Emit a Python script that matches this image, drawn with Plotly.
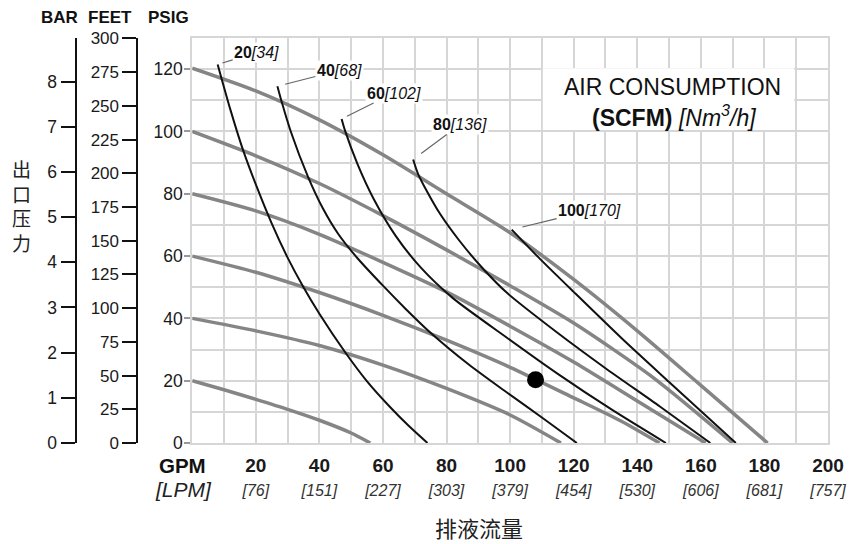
import plotly.graph_objects as go

# ---------------- data ----------------
gpm_tick_vals = [20, 40, 60, 80, 100, 120, 140, 160, 180, 200]
lpm_tick_text = ["[76]", "[151]", "[227]", "[303]", "[379]", "[454]", "[530]", "[606]", "[681]", "[757]"]
gpm_minor_vals = [10, 30, 50, 70, 90, 110, 130, 150, 170, 190]
psig_tick_vals = [0, 20, 40, 60, 80, 100, 120]
psig_minor_vals = [10, 30, 50, 70, 90, 110, 130]
feet_tick_vals = [0, 25, 50, 75, 100, 125, 150, 175, 200, 225, 250, 275, 300]
bar_tick_vals = [0, 1, 2, 3, 4, 5, 6, 7, 8]

# outlet pressure lines (gray), one per inlet air pressure
air_psig = [20, 40, 60, 80, 100, 120]
air20_gpm = [0, 10, 20, 30, 40, 50, 56]
air20_psig = [20, 17.1, 14, 10.8, 7.3, 3.2, 0]
air40_gpm = [0, 20, 40, 60, 80, 100, 116]
air40_psig = [40, 36, 31.3, 25, 17.5, 9, 0]
air60_gpm = [0, 20, 40, 60, 80, 100, 120, 135, 147]
air60_psig = [60, 54.8, 48.3, 41, 33, 24.3, 14.5, 7, 0]
air80_gpm = [0, 20, 40, 60, 80, 100, 120, 140, 161.5]
air80_psig = [80, 74.5, 67, 58, 48.5, 37.5, 26, 13.5, 0]
air100_gpm = [0, 20, 40, 60, 80, 100, 120, 145, 170]
air100_psig = [100, 92.2, 83.3, 73, 62, 50.5, 38.5, 21, 0]
air120_gpm = [0, 20, 40, 60, 80, 100, 120, 140, 160, 181]
air120_psig = [120.3, 113, 103.7, 92.5, 80, 67.5, 52.5, 36, 18.5, 0]

# air consumption lines (black)
scfm_vals = [20, 40, 60, 80, 100]
nm3h_vals = [34, 68, 102, 136, 170]
scfm20_gpm = [8, 12, 16, 20, 25, 30, 35, 40, 48, 55, 62, 68, 74]
scfm20_psig = [121.5, 107, 94, 83, 70.5, 59.5, 50, 41.5, 29.3, 19.8, 11.8, 5.6, 0]
scfm40_gpm = [26.8, 28, 31, 36.4, 41, 46, 52, 60, 67, 74, 87, 99, 110, 121]
scfm40_psig = [114.5, 110, 100, 85.5, 75.5, 67, 59.3, 50.5, 43.2, 36.3, 25.2, 16.2, 8.2, 0]
scfm60_gpm = [47, 48, 52, 57, 64, 72, 82, 99, 115, 132, 149]
scfm60_psig = [104, 100.5, 89.5, 78.5, 66.5, 56.2, 46.5, 33.8, 22.2, 10.7, 0]
scfm80_gpm = [69.5, 71, 74, 78, 84, 91, 99, 115, 130, 147, 163]
scfm80_psig = [91, 86.5, 80.5, 73.5, 65, 56.5, 48.2, 35.3, 24, 11.8, 0]
scfm100_gpm = [100.5, 109, 120, 135, 150, 171]
scfm100_psig = [68.5, 59.5, 48.5, 33.7, 19.6, 0]

# operating point
point_gpm = [108]
point_psig = [20.3]

# ---------------- layout geometry ----------------
FONT = "Liberation Sans, Arial, Helvetica, sans-serif"
CJK = "Noto Sans CJK SC"
W, H = 858, 544
ML, MR, MT, MB = 20, 24, 38, 101
PW = W - ML - MR
PH = H - MT - MB
GRID = "#d6d6d6"


def px_x(px):
    return (px - ML) / PW


def px_y(py):
    return 1 - (py - MT) / PH


fig = go.Figure()

air_gpm = [air20_gpm, air40_gpm, air60_gpm, air80_gpm, air100_gpm, air120_gpm]
air_pp = [air20_psig, air40_psig, air60_psig, air80_psig, air100_psig, air120_psig]
for gx, gy, p in zip(air_gpm, air_pp, air_psig):
    fig.add_trace(go.Scatter(x=gx, y=gy, mode="lines", name=f"{p} psig",
                             line=dict(color="#858585", width=3.5, shape="spline", smoothing=0.7),
                             hoverinfo="skip"))

scfm_gpm = [scfm20_gpm, scfm40_gpm, scfm60_gpm, scfm80_gpm, scfm100_gpm]
scfm_pp = [scfm20_psig, scfm40_psig, scfm60_psig, scfm80_psig, scfm100_psig]
for gx, gy, s in zip(scfm_gpm, scfm_pp, scfm_vals):
    fig.add_trace(go.Scatter(x=gx, y=gy, mode="lines", name=f"{s} SCFM",
                             line=dict(color="#111111", width=2, shape="spline", smoothing=0.7),
                             hoverinfo="skip"))

fig.add_trace(go.Scatter(x=point_gpm, y=point_psig, mode="markers",
                         marker=dict(color="black", size=17), hoverinfo="skip"))

# dummy traces to bind the FEET and BAR axes
fig.add_trace(go.Scatter(x=[0], y=[0], yaxis="y2", mode="markers",
                         marker=dict(opacity=0), hoverinfo="skip"))
fig.add_trace(go.Scatter(x=[0], y=[0], yaxis="y3", mode="markers",
                         marker=dict(opacity=0), hoverinfo="skip"))

x_text = [f"<span style='font-size:19px'><b>{v}</b></span><br>"
          f"<span style='font-size:16px;color:#333'><i>{t}</i></span>"
          for v, t in zip(gpm_tick_vals, lpm_tick_text)]

X0 = px_x(193.5)
fig.update_layout(
    width=W, height=H,
    margin=dict(l=ML, r=MR, t=MT, b=MB),
    paper_bgcolor="white", plot_bgcolor="white",
    showlegend=False,
    font=dict(family=FONT, color="#1a1a1a", size=17),
    xaxis=dict(domain=[X0, 1], range=[0, 200], tickmode="array",
               tickvals=gpm_tick_vals, ticktext=x_text,
               showgrid=True, gridcolor=GRID, gridwidth=2,
               minor=dict(tickmode="array", tickvals=gpm_minor_vals,
                          showgrid=True, gridcolor=GRID, gridwidth=2, ticks=""),
               showline=True, linecolor=GRID, linewidth=2, mirror=True,
               zeroline=False, ticks="outside", ticklen=5,
               tickcolor="rgba(0,0,0,0)", tickfont=dict(size=18.5, family=FONT)),
    yaxis=dict(domain=[0, 1], range=[0, 130], tickmode="array",
               tickvals=psig_tick_vals, ticktext=[str(v) for v in psig_tick_vals],
               showgrid=True, gridcolor=GRID, gridwidth=2,
               minor=dict(tickmode="array", tickvals=psig_minor_vals,
                          showgrid=True, gridcolor=GRID, gridwidth=2, ticks=""),
               showline=True, linecolor=GRID, linewidth=2, mirror=True,
               zeroline=False, ticks="outside", ticklen=6, tickwidth=2,
               tickcolor="#999999", ticklabelstandoff=-2,
               tickfont=dict(size=17.5, family=FONT)),
    yaxis2=dict(overlaying="y", anchor="free", position=px_x(138.3), side="left",
                range=[0, 130 * 2.31], tickmode="array", tickvals=feet_tick_vals,
                showgrid=False, zeroline=False, showline=True, linecolor="#111",
                linewidth=2, ticks="outside", ticklen=14, tickwidth=2, tickcolor="#111",
                tickfont=dict(size=17, family=FONT)),
    yaxis3=dict(overlaying="y", anchor="free", position=px_x(76), side="left",
                range=[0, 130 / 14.5038], tickmode="array", tickvals=bar_tick_vals,
                showgrid=False, zeroline=False, showline=True, linecolor="#111",
                linewidth=2, ticks="outside", ticklen=14, tickwidth=2, tickcolor="#111",
                tickfont=dict(size=17.5, family=FONT)),
)

# white box behind the AIR CONSUMPTION title
fig.add_shape(type="rect", xref="paper", yref="paper",
              x0=px_x(546.7), x1=px_x(800), y0=px_y(130), y1=px_y(68.3),
              fillcolor="white", line=dict(width=0), layer="above")

ann = []
# header
for txt, cx in [("BAR", 60), ("FEET", 110.5), ("PSIG", 170)]:
    ann.append(dict(text=f"<b>{txt}</b>", x=px_x(cx), y=px_y(17), xref="paper", yref="paper",
                    showarrow=False, xanchor="center", yanchor="middle",
                    font=dict(size=17, family=FONT, color="#111")))
# GPM / LPM
ann.append(dict(text="<b>GPM</b>", x=px_x(184), y=px_y(465), xref="paper", yref="paper",
                showarrow=False, xanchor="center", yanchor="middle",
                font=dict(size=20.5, family=FONT, color="#111")))
ann.append(dict(text="<i>[LPM]</i>", x=px_x(185), y=px_y(489), xref="paper", yref="paper",
                showarrow=False, xanchor="center", yanchor="middle",
                font=dict(size=21, family=FONT, color="#222")))
# Chinese axis labels
ann.append(dict(text="出<br>口<br>压<br>力", x=px_x(22), y=px_y(205), xref="paper", yref="paper",
                showarrow=False, xanchor="center", yanchor="middle",
                font=dict(size=19, family=CJK, color="#222")))
ann.append(dict(text="排液流量", x=px_x(482.5), y=px_y(527), xref="paper", yref="paper",
                showarrow=False, xanchor="center", yanchor="middle",
                font=dict(size=22, family=CJK, color="#222")))
# AIR CONSUMPTION title (two stacked lines)
ann.append(dict(text="AIR CONSUMPTION", x=px_x(677), y=px_y(100.5), xref="paper", yref="paper",
                showarrow=False, xanchor="center", yanchor="bottom", borderpad=0,
                font=dict(size=23, family=FONT, color="#111")))
ann.append(dict(text="<b>(SCFM)</b> <i>[Nm<sup>3</sup>/h]</i>", x=px_x(678.5), y=px_y(99.5),
                xref="paper", yref="paper", showarrow=False, xanchor="center", yanchor="top",
                borderpad=0, font=dict(size=23, family=FONT, color="#111")))
# curve labels with leader lines (text offsets in pixels, gap to the curve start)
label_offsets = [(39, -12), (62, -16), (52, -26), (47, -35), (78, -19)]
label_gaps = [5, 8, 6, 10, 11]
for gx, gy, s, n, (ax, ay), gap in zip(scfm_gpm, scfm_pp, scfm_vals, nm3h_vals,
                                        label_offsets, label_gaps):
    ann.append(dict(text=f"<b>{s}</b><i>[{n}]</i>", x=gx[0], y=gy[0], xref="x", yref="y",
                    showarrow=True, arrowhead=0, arrowwidth=1.2, arrowcolor="#666",
                    ax=ax, ay=ay, standoff=gap, bgcolor="white", borderpad=1,
                    font=dict(size=16, family=FONT, color="#111")))

fig.update_layout(annotations=ann)
fig.write_html("out.html", config={"displayModeBar": False},
               post_script="document.body.style.margin='0';")
